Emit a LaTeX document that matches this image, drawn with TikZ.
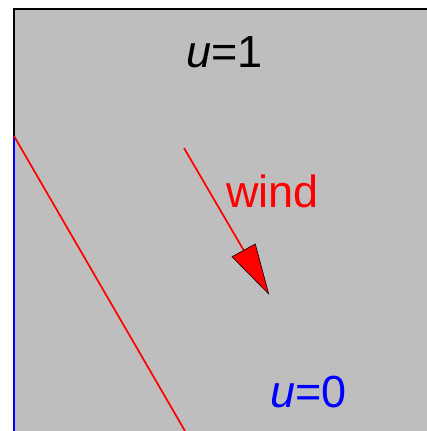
\documentclass[tikz,border=0pt]{standalone}
\usepackage{fontspec}
\setmainfont{Liberation Sans}
\begin{document}
\begin{tikzpicture}[x=1pt,y=-1pt,
  lbl/.style={anchor=base west,inner sep=0pt,font=\fontsize{45}{50}\selectfont},
  edge/.style={line width=2.8pt},
  thin red/.style={draw=red,line width=1.7pt}]
\useasboundingbox (0,0) rectangle (427,431);
\definecolor{bg}{RGB}{190,190,190}
\fill[bg] (14,9) rectangle (427,431);
\coordinate (tl) at (14,9);
\coordinate (tr) at (427,9);
\coordinate (lm) at (14,136);
\coordinate (bl) at (14,431);
\coordinate (rb) at (185,431);
\draw[edge,black] (tr) -- (tl) -- (lm);
\draw[edge,blue] (lm) -- (bl);
\draw[thin red,line cap=butt] (lm) -- (rb);
% wind arrow
\coordinate (s) at (184,148);
\coordinate (tip) at (268.7,294);
\coordinate (b1) at (232,256.7);
\coordinate (b2) at (255.3,244);
\coordinate (bm) at (243.7,250.3);
\draw[thin red] (s) -- (bm);
\filldraw[fill=red,draw=black,line width=0.6pt,line join=miter] (b1) -- (b2) -- (tip) -- cycle;
\node[lbl] (u1) at (186,67.7) {\textit{u}=1};
\node[lbl,text=red] (wind) at (226,207) {wind};
\node[lbl,text=blue] (u0) at (270,407) {\textit{u}=0};
\end{tikzpicture}
\end{document}
